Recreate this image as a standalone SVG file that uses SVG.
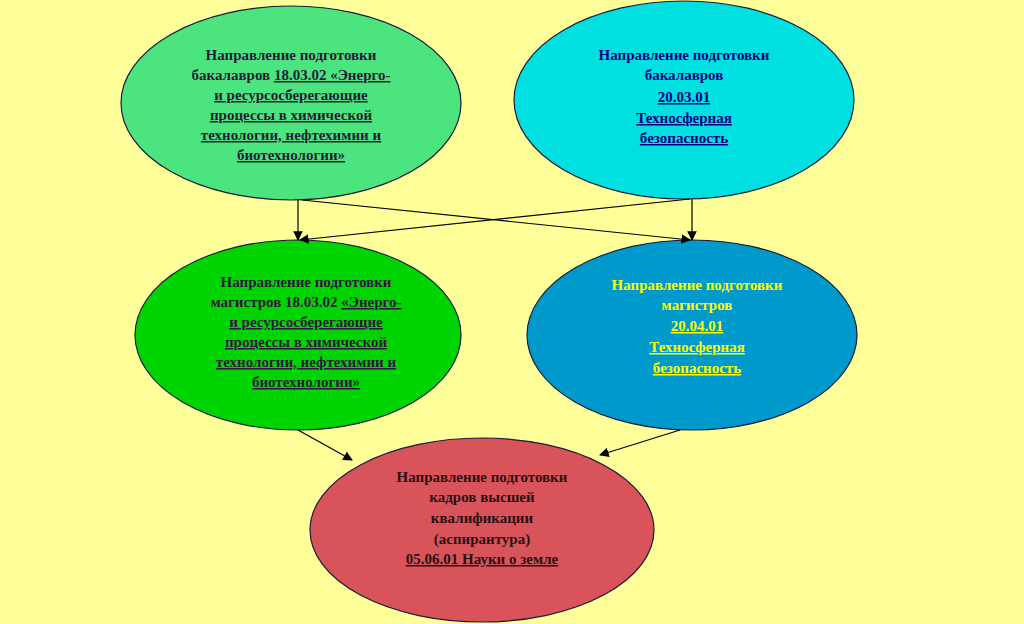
<svg xmlns="http://www.w3.org/2000/svg" width="1024" height="624" viewBox="0 0 1024 624">
<style>
text{font-family:"Liberation Serif",serif;font-weight:bold;font-size:15px;text-anchor:middle}
.e{stroke:#1a1a3a;stroke-width:1.2}
.c line{stroke:#000;stroke-width:1.2;marker-end:url(#a)}
.u{text-decoration:underline}
</style>
<defs><marker id="a" viewBox="0 0 10 10" refX="9" refY="5" markerWidth="8" markerHeight="8" orient="auto"><path d="M0,0L10,5L0,10z" fill="#000"/></marker></defs>
<rect width="1024" height="624" fill="#ffff99"/>
<g id="n1"><ellipse class="e" cx="291" cy="103" rx="170" ry="97" fill="#4ce47e"/>
<g fill="#2a1a3a"><text x="291" y="60">Направление подготовки</text>
<text x="291" y="80">бакалавров <tspan class="u">18.03.02 «Энерго-</tspan></text>
<text x="291" y="100" class="u">и ресурсосберегающие</text>
<text x="291" y="120" class="u">процессы в химической</text>
<text x="291" y="140" class="u">технологии, нефтехимии и</text>
<text x="291" y="160" class="u">биотехнологии»</text></g></g>
<g id="n2"><ellipse class="e" cx="684" cy="100" rx="170" ry="99" fill="#00e0e0" stroke="#000080"/>
<g fill="#000080"><text x="684" y="60">Направление подготовки</text>
<text x="684" y="80">бакалавров</text>
<text x="684" y="102" class="u">20.03.01</text>
<text x="684" y="123" class="u">Техносферная</text>
<text x="684" y="143" class="u">безопасность</text></g></g>
<g id="n3"><ellipse class="e" cx="298" cy="335" rx="163" ry="95" fill="#00d400"/>
<g fill="#2a1a3a"><text x="306" y="287">Направление подготовки</text>
<text x="306" y="307">магистров 18.03.02 <tspan class="u">«Энерго-</tspan></text>
<text x="306" y="327" class="u">и ресурсосберегающие</text>
<text x="306" y="347" class="u">процессы в химической</text>
<text x="306" y="367" class="u">технологии, нефтехимии и</text>
<text x="306" y="387" class="u">биотехнологии»</text></g></g>
<g id="n4"><ellipse class="e" cx="692" cy="335" rx="165" ry="95" fill="#0099cc"/>
<g fill="#ffff00"><text x="697" y="290">Направление подготовки</text>
<text x="697" y="310">магистров</text>
<text x="697" y="331" class="u">20.04.01</text>
<text x="697" y="352" class="u">Техносферная</text>
<text x="697" y="373" class="u">безопасность</text></g></g>
<g id="n5"><ellipse class="e" cx="482" cy="530" rx="172" ry="92" fill="#d9535b"/>
<g fill="#2a1010"><text x="482" y="482">Направление подготовки</text>
<text x="482" y="502">кадров высшей</text>
<text x="482" y="523">квалификации</text>
<text x="482" y="544">(аспирантура)</text>
<text x="482" y="564" class="u">05.06.01 Науки о земле</text></g></g>
<g class="c">
<line x1="298" y1="200" x2="298" y2="240"/>
<line x1="302" y1="200" x2="690" y2="240"/>
<line x1="692" y1="199" x2="692" y2="240"/>
<line x1="690" y1="199" x2="300" y2="240"/>
<line x1="298" y1="430" x2="352" y2="460"/>
<line x1="680" y1="430" x2="600" y2="455"/>
</g>
</svg>
